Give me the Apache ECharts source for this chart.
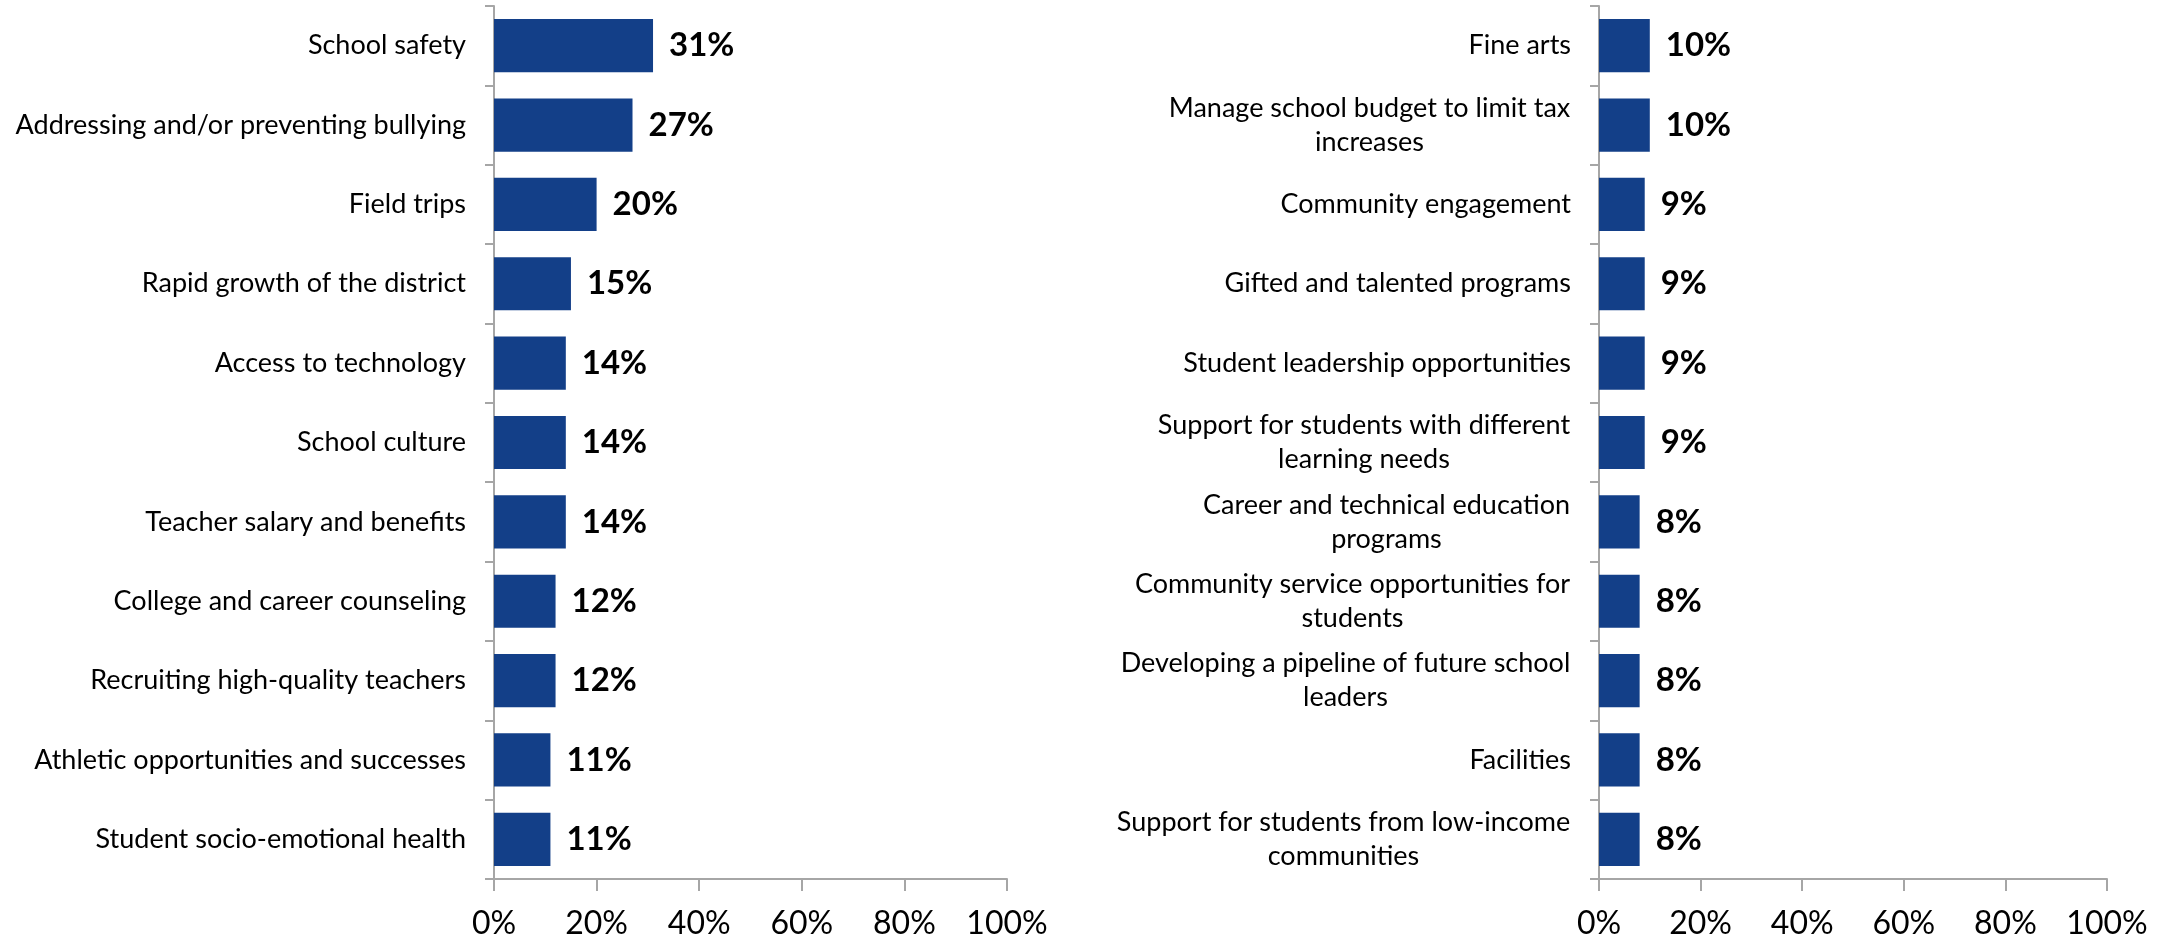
<!DOCTYPE html>
<html>
<head>
<meta charset="utf-8">
<title>Priorities</title>
<script src="https://cdn.jsdelivr.net/npm/echarts@6/dist/echarts.min.js"></script>
<style>
    html, body { margin: 0; padding: 0; background: #fff; }
    #chart_priorities { width: 2182px; height: 942px; }
</style>
</head>
<body>
<div id="chart_priorities"></div>
<script>
// 左侧分类及数值
const leftCategories = [
    "School safety",
    "Addressing and/or preventing bullying",
    "Field trips",
    "Rapid growth of the district",
    "Access to technology",
    "School culture",
    "Teacher salary and benefits",
    "College and career counseling",
    "Recruiting high-quality teachers",
    "Athletic opportunities and successes",
    "Student socio-emotional health"
];
const leftValues = [31, 27, 20, 15, 14, 14, 14, 12, 12, 11, 11];

// 右侧分类及数值
const rightCategories = [
    "Fine arts",
    "Manage school budget to limit tax\nincreases",
    "Community engagement",
    "Gifted and talented programs",
    "Student leadership opportunities",
    "Support for students with different\nlearning needs",
    "Career and technical education\nprograms",
    "Community service opportunities for\nstudents",
    "Developing a pipeline of future school\nleaders",
    "Facilities",
    "Support for students from low-income\ncommunities"
];
const rightValues = [10, 10, 9, 9, 9, 9, 8, 8, 8, 8, 8];

const xTicks = [0, 20, 40, 60, 80, 100];

const FONT = "Lato";
const LABEL_SIZE = 27;
const BAR_COLOR = "#133f88";
const AXIS_COLOR = "#a6a6a6";

// 多行标签：每行居中，整体右对齐
let measureCtx = document.createElement("canvas").getContext("2d");
measureCtx.font = LABEL_SIZE + "px " + FONT;

function buildRich(categories) {
    let rich = {};
    let keys = {};
    categories.forEach((name, i) => {
        if (name.indexOf("\n") < 0) return;
        let w = Math.max(...name.split("\n").map(s => measureCtx.measureText(s).width));
        let key = "l" + i;
        keys[name] = key;
        rich[key] = {
            width: Math.ceil(w) + 1,
            align: "center",
            color: "#000",
            fontFamily: FONT,
            fontSize: LABEL_SIZE,
            lineHeight: 34
        };
    });
    return { rich: rich, keys: keys };
}

function xAxisFor(gridIndex) {
    return {
        type: "value",
        gridIndex: gridIndex,
        min: xTicks[0],
        max: xTicks[xTicks.length - 1],
        interval: xTicks[1] - xTicks[0],
        axisLine: { show: true, lineStyle: { color: AXIS_COLOR, width: 2 } },
        axisTick: { show: true, length: 12, lineStyle: { color: AXIS_COLOR, width: 2 } },
        splitLine: { show: false },
        axisLabel: {
            formatter: "{value}%",
            color: "#000",
            fontFamily: FONT,
            fontSize: 32,
            margin: 29
        }
    };
}

function yAxisFor(gridIndex, categories) {
    let r = buildRich(categories);
    return {
        type: "category",
        gridIndex: gridIndex,
        inverse: true,
        data: categories,
        axisLine: { show: true, lineStyle: { color: AXIS_COLOR, width: 2 } },
        axisTick: { show: true, length: 9, lineStyle: { color: AXIS_COLOR, width: 2 } },
        axisLabel: {
            color: "#000",
            fontFamily: FONT,
            fontSize: LABEL_SIZE,
            lineHeight: 34,
            align: "right",
            margin: 28,
            rich: r.rich,
            formatter: function (value) {
                let key = r.keys[value];
                if (!key) return value;
                return value.split("\n").map(s => "{" + key + "|" + s + "}").join("\n");
            }
        }
    };
}

function barSeries(index, values) {
    return {
        type: "bar",
        xAxisIndex: index,
        yAxisIndex: index,
        data: values,
        barCategoryGap: "33%",
        itemStyle: { color: BAR_COLOR },
        label: {
            show: true,
            position: "right",
            distance: 16,
            formatter: "{c}%",
            color: "#000",
            fontFamily: FONT,
            fontWeight: "bold",
            fontSize: 33
        }
    };
}

let chart = echarts.init(document.getElementById("chart_priorities"));

let option = {
    animation: false,
    grid: [
        { left: 494, top: 6, width: 513, height: 873 },
        { left: 1599, top: 6, width: 508, height: 873 }
    ],
    xAxis: [xAxisFor(0), xAxisFor(1)],
    yAxis: [yAxisFor(0, leftCategories), yAxisFor(1, rightCategories)],
    series: [barSeries(0, leftValues), barSeries(1, rightValues)]
};

chart.setOption(option);
</script>
</body>
</html>
